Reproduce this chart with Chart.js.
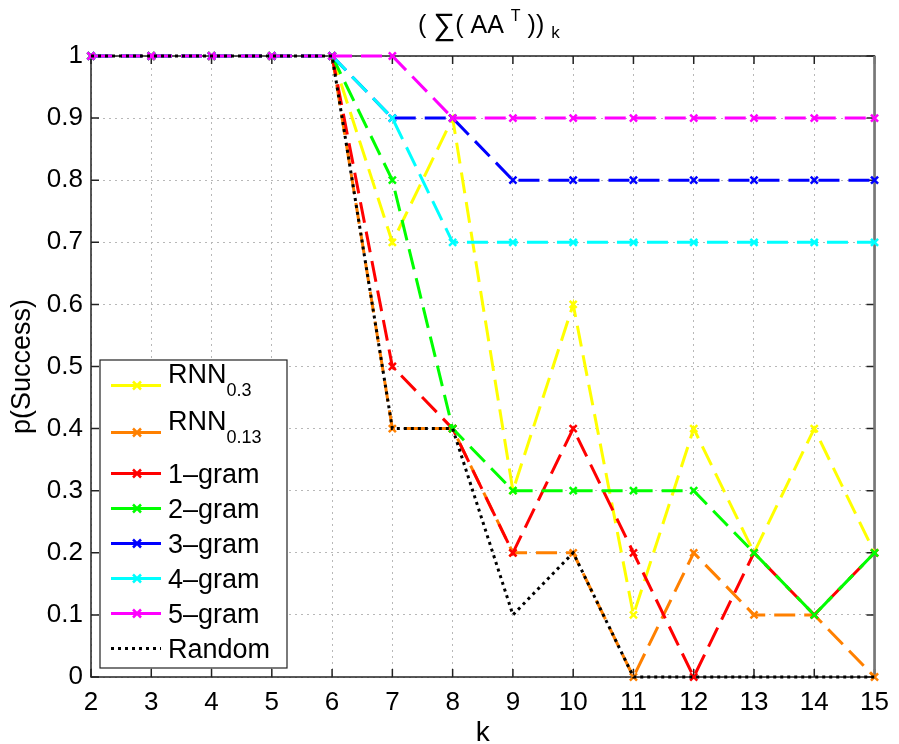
<!DOCTYPE html>
<html>
<head>
<meta charset="utf-8">
<style>
  html, body { margin: 0; padding: 0; background: #fff; }
  #wrap { width: 899px; height: 744px; }
</style>
<script src="https://cdn.jsdelivr.net/npm/chart.js@4/dist/chart.umd.min.js"></script>
</head>
<body>
<div id="wrap"><canvas id="chart" width="899" height="744"></canvas></div>
<script>
// k values on the x axis
const ks = [2, 3, 4, 5, 6, 7, 8, 9, 10, 11, 12, 13, 14, 15];
const yTicks = [0, 0.1, 0.2, 0.3, 0.4, 0.5, 0.6, 0.7, 0.8, 0.9, 1];

// series
const rnn03  = [1, 1, 1, 1, 1, 0.7, 0.9, 0.3, 0.6, 0.1, 0.4, 0.2, 0.4, 0.2];
const rnn013 = [1, 1, 1, 1, 1, 0.4, 0.4, 0.2, 0.2, 0.0, 0.2, 0.1, 0.1, 0.0];
const gram1  = [1, 1, 1, 1, 1, 0.5, 0.4, 0.2, 0.4, 0.2, 0.0, 0.2, 0.1, 0.2];
const gram2  = [1, 1, 1, 1, 1, 0.8, 0.4, 0.3, 0.3, 0.3, 0.3, 0.2, 0.1, 0.2];
const gram3  = [1, 1, 1, 1, 1, 0.9, 0.9, 0.8, 0.8, 0.8, 0.8, 0.8, 0.8, 0.8];
const gram4  = [1, 1, 1, 1, 1, 0.9, 0.7, 0.7, 0.7, 0.7, 0.7, 0.7, 0.7, 0.7];
const gram5  = [1, 1, 1, 1, 1, 1.0, 0.9, 0.9, 0.9, 0.9, 0.9, 0.9, 0.9, 0.9];
const random = [1, 1, 1, 1, 1, 0.4, 0.4, 0.1, 0.2, 0.0, 0.0, 0.0, 0.0, 0.0];

const seriesNames = ['RNN_0.3', 'RNN_0.13', '1–gram', '2–gram', '3–gram', '4–gram', '5–gram', 'Random'];
const seriesData = [rnn03, rnn013, gram1, gram2, gram3, gram4, gram5, random];
const seriesColors = ['#ffff00', '#ff8000', '#ff0000', '#00ff00', '#0000ff', '#00ffff', '#ff00ff', '#000000'];

const FONT = '"Liberation Sans", Arial, Helvetica, sans-serif';

const datasets = seriesData.map((d, i) => {
  const isRandom = seriesNames[i] === 'Random';
  return {
    label: seriesNames[i],
    data: d,
    borderColor: seriesColors[i],
    backgroundColor: seriesColors[i],
    borderWidth: 3,
    borderDash: isRandom ? [3, 4] : [21, 9],
    pointStyle: 'crossRot',
    pointRadius: isRandom ? 0 : 5,
    pointBorderWidth: 2.5,
    pointBorderColor: seriesColors[i],
    tension: 0,
    fill: false,
    clip: false,
    order: seriesNames.length - 1 - i   // later series on top, like MATLAB
  };
});

// frame + inward tick marks
const framePlugin = {
  id: 'frame',
  beforeDatasetsDraw(chart) {
    const { ctx, chartArea: a, scales } = chart;
    ctx.save();
    ctx.strokeStyle = '#222';
    ctx.lineWidth = 1.5;
    ctx.setLineDash([]);
    ctx.beginPath();
    ks.forEach((k, i) => {
      const x = scales.x.getPixelForValue(i);
      ctx.moveTo(x, a.bottom); ctx.lineTo(x, a.bottom - 8);
      ctx.moveTo(x, a.top); ctx.lineTo(x, a.top + 8);
    });
    yTicks.forEach(v => {
      const y = scales.y.getPixelForValue(v);
      ctx.moveTo(a.left, y); ctx.lineTo(a.left + 8, y);
      ctx.moveTo(a.right, y); ctx.lineTo(a.right - 8, y);
    });
    ctx.stroke();
    ctx.strokeRect(a.left, a.top, a.right - a.left, a.bottom - a.top);
    ctx.strokeStyle = '#777';
    ctx.lineWidth = 2.5;
    ctx.beginPath();
    ctx.moveTo(a.right, a.top); ctx.lineTo(a.right, a.bottom);
    ctx.stroke();
    ctx.restore();
  }
};

// title with super/subscript
const titlePlugin = {
  id: 'mtitle',
  afterDraw(chart) {
    const ctx = chart.ctx;
    const parts = [
      { t: '( ', f: 25, dy: 0 },
      { t: '∑', f: 31, dy: 2 },
      { t: '( AA ', f: 25, dy: 0 },
      { t: 'T', f: 16, dy: -12 },
      { t: ' )) ', f: 25, dy: 0 },
      { t: 'k', f: 17, dy: 5 }
    ];
    ctx.save();
    ctx.fillStyle = '#000';
    ctx.textBaseline = 'alphabetic';
    let total = 0;
    parts.forEach(p => { ctx.font = p.f + 'px ' + FONT; p.w = ctx.measureText(p.t).width; total += p.w; });
    const a = chart.chartArea;
    let x = (a.left + a.right) / 2 + 6 - total / 2;
    const base = 33;
    parts.forEach(p => {
      ctx.font = p.f + 'px ' + FONT;
      ctx.fillText(p.t, x, base + p.dy);
      x += p.w;
    });
    ctx.restore();
  }
};

// legend box in the lower left, with subscripts
const legendPlugin = {
  id: 'mlegend',
  afterDraw(chart) {
    const ctx = chart.ctx;
    const a = chart.chartArea;
    const hasSub = seriesNames.map(n => n.indexOf('_') >= 0);
    const rowH = hasSub.map(s => s ? 47 : 35);
    const boxH = rowH.reduce((s, h) => s + h, 0) + 4;
    const boxX = a.left + 9, boxW = 187;
    const boxY = a.bottom - 9 - boxH;
    ctx.save();
    ctx.fillStyle = '#fff';
    ctx.fillRect(boxX, boxY, boxW, boxH);
    ctx.strokeStyle = '#222';
    ctx.lineWidth = 1.2;
    ctx.setLineDash([]);
    ctx.strokeRect(boxX, boxY, boxW, boxH);
    let y = boxY + 2;
    seriesNames.forEach((name, i) => {
      const cy = y + rowH[i] / 2;
      y += rowH[i];
      const ds = datasets[i];
      ctx.strokeStyle = ds.borderColor;
      ctx.lineWidth = 3;
      ctx.setLineDash(name === 'Random' ? [3, 4] : []);
      ctx.beginPath();
      ctx.moveTo(boxX + 11, cy);
      ctx.lineTo(boxX + 61, cy);
      ctx.stroke();
      ctx.setLineDash([]);
      if (ds.pointRadius > 0) {
        const mx = boxX + 37, r = 4;
        ctx.lineWidth = 2.5;
        ctx.beginPath();
        ctx.moveTo(mx - r, cy - r); ctx.lineTo(mx + r, cy + r);
        ctx.moveTo(mx - r, cy + r); ctx.lineTo(mx + r, cy - r);
        ctx.stroke();
      }
      ctx.fillStyle = '#000';
      ctx.textBaseline = 'alphabetic';
      const tx = boxX + 68;
      if (hasSub[i]) {
        const [main, sub] = name.split('_');
        ctx.font = '27px ' + FONT;
        ctx.fillText(main, tx, cy - 3);
        const w = ctx.measureText(main).width;
        ctx.font = '18px ' + FONT;
        ctx.fillText(sub, tx + w, cy + 10);
      } else {
        ctx.font = '27px ' + FONT;
        ctx.fillText(name, tx, cy + 9);
      }
    });
    ctx.restore();
  }
};

const bgPlugin = {
  id: 'bg',
  beforeDraw(chart) {
    const ctx = chart.ctx;
    ctx.save();
    ctx.fillStyle = '#fff';
    ctx.fillRect(0, 0, chart.width, chart.height);
    ctx.restore();
  }
};

new Chart(document.getElementById('chart').getContext('2d'), {
  type: 'line',
  data: { labels: ks, datasets: datasets },
  plugins: [bgPlugin, framePlugin, legendPlugin, titlePlugin],
  options: {
    responsive: false,
    animation: false,
    layout: { padding: { top: 56, right: 21, left: 0, bottom: 0 } },
    plugins: { legend: { display: false }, title: { display: false }, tooltip: { enabled: false } },
    scales: {
      x: {
        type: 'category',
        offset: false,
        afterFit(scale) { scale.height = 67; },
        grid: { color: '#b8b8b8', lineWidth: 1, drawTicks: false, drawOnChartArea: true },
        border: { display: false, dash: [2, 4] },
        ticks: { color: '#000', padding: 10, maxRotation: 0, autoSkip: false, font: { family: FONT, size: 26 } },
        title: { display: true, text: 'k', color: '#000', padding: 0, font: { family: FONT, size: 28, lineHeight: 0.8 } }
      },
      y: {
        min: 0,
        max: 1,
        afterFit(scale) { scale.width = 91; },
        afterBuildTicks(scale) { scale.ticks = yTicks.map(v => ({ value: v })); },
        grid: { color: '#b8b8b8', lineWidth: 1, drawTicks: false },
        border: { display: false, dash: [2, 4] },
        ticks: {
          color: '#000', padding: 8, font: { family: FONT, size: 26 },
          callback: v => String(Math.round(v * 10) / 10)
        },
        title: { display: true, text: 'p(Success)', color: '#000', padding: { top: 6, bottom: 0 }, font: { family: FONT, size: 27, lineHeight: 1.2 } }
      }
    }
  }
});
</script>
</body>
</html>
